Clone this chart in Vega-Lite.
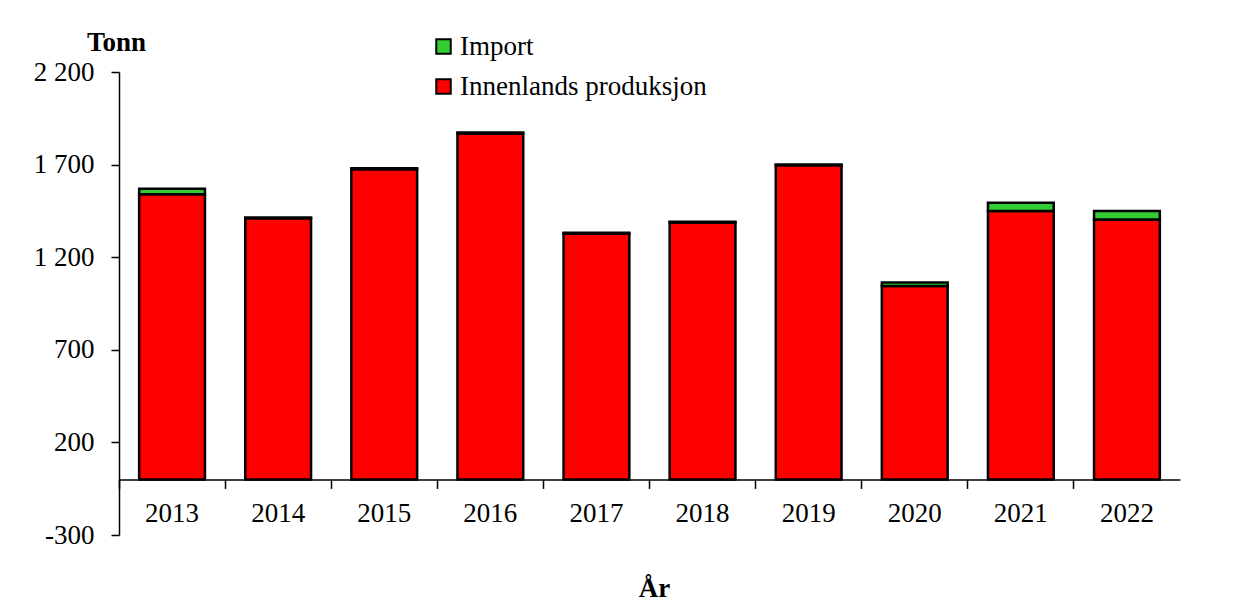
{
  "$schema": "https://vega.github.io/schema/vega-lite/v6.json",
  "autosize": {"type": "none"},
  "width": 1061,
  "height": 463,
  "padding": {"left": 119, "top": 72, "right": 64, "bottom": 80},
  "background": "white",
  "config": {
    "view": {"stroke": null},
    "font": "Liberation Serif",
    "axis": {"labelFont": "Liberation Serif", "titleFont": "Liberation Serif", "labelColor": "black", "titleColor": "black", "domainColor": "black", "tickColor": "black", "grid": false}
  },
  "data": {
    "values": [
      {"year": "2013", "serie": "Innenlands produksjon", "tonn": 1540},
      {"year": "2013", "serie": "Import", "tonn": 30},
      {"year": "2014", "serie": "Innenlands produksjon", "tonn": 1410},
      {"year": "2014", "serie": "Import", "tonn": 5},
      {"year": "2015", "serie": "Innenlands produksjon", "tonn": 1675},
      {"year": "2015", "serie": "Import", "tonn": 5},
      {"year": "2016", "serie": "Innenlands produksjon", "tonn": 1868},
      {"year": "2016", "serie": "Import", "tonn": 5},
      {"year": "2017", "serie": "Innenlands produksjon", "tonn": 1327},
      {"year": "2017", "serie": "Import", "tonn": 5},
      {"year": "2018", "serie": "Innenlands produksjon", "tonn": 1387},
      {"year": "2018", "serie": "Import", "tonn": 4},
      {"year": "2019", "serie": "Innenlands produksjon", "tonn": 1697},
      {"year": "2019", "serie": "Import", "tonn": 4},
      {"year": "2020", "serie": "Innenlands produksjon", "tonn": 1045},
      {"year": "2020", "serie": "Import", "tonn": 18},
      {"year": "2021", "serie": "Innenlands produksjon", "tonn": 1450},
      {"year": "2021", "serie": "Import", "tonn": 44},
      {"year": "2022", "serie": "Innenlands produksjon", "tonn": 1403},
      {"year": "2022", "serie": "Import", "tonn": 47}
    ]
  },
  "mark": {"type": "bar", "width": {"band": 0.62}, "stroke": "black", "strokeWidth": 2.5},
  "encoding": {
    "x": {
      "field": "year", "type": "ordinal",
      "scale": {"paddingInner": 0, "paddingOuter": 0},
      "axis": {
        "title": "År", "titleFontSize": 27, "titleFontWeight": "bold",
        "titleX": 535, "titleY": 117, "titleBaseline": "alphabetic", "titleAnchor": null, "titleAlign": "center",
        "labelAngle": 0, "labelFontSize": 27, "labelPadding": 12,
        "bandPosition": 0, "tickSize": 9, "tickWidth": 1.5, "domainWidth": 1.5,
        "offset": -55.6
      }
    },
    "y": {
      "field": "tonn", "type": "quantitative", "stack": "zero",
      "scale": {"domain": [-300, 2200], "nice": false, "zero": false},
      "axis": {
        "title": "Tonn", "titleAngle": 0, "titleFontSize": 27, "titleFontWeight": "bold",
        "titleX": -3, "titleY": -22, "titleAlign": "center", "titleBaseline": "alphabetic", "titleAnchor": null,
        "values": [-300, 200, 700, 1200, 1700, 2200],
        "labelExpr": "datum.value < 0 ? '-' + format(-datum.value, 'd') : replace(format(datum.value, ',d'), ',', ' ')",
        "labelFontSize": 27, "labelPadding": 17, "tickSize": 8, "tickWidth": 1.5, "domainWidth": 1.5
      }
    },
    "color": {
      "field": "serie", "type": "nominal",
      "scale": {"domain": ["Import", "Innenlands produksjon"], "range": ["#33CC33", "#FF0000"]},
      "legend": {
        "title": null, "orient": "none", "legendX": 311, "legendY": -39,
        "symbolType": "square", "symbolSize": 210, "symbolStrokeColor": "black", "symbolStrokeWidth": 2,
        "labelFont": "Liberation Serif", "labelFontSize": 27, "labelColor": "black", "labelOffset": 3, "labelLimit": 0,
        "rowPadding": 12
      }
    },
    "order": {"field": "serie", "sort": "descending"}
  }
}
